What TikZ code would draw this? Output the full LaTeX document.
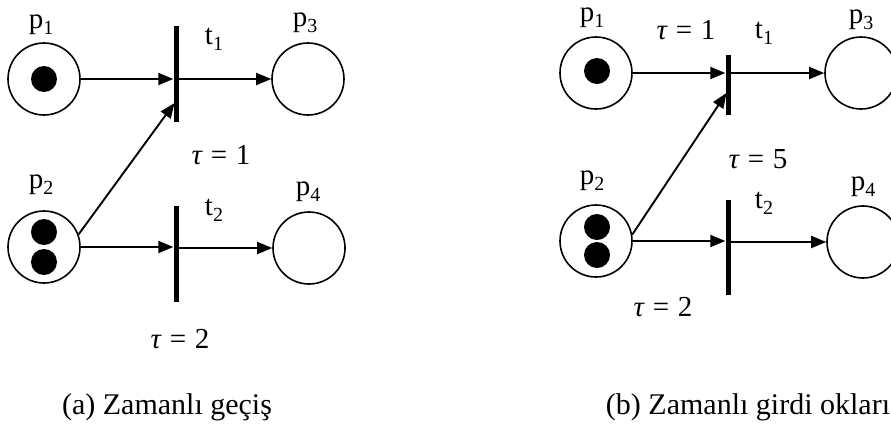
\documentclass[tikz,border=0pt]{standalone}
\usepackage{fontspec}
\setmainfont{Liberation Serif}
\usetikzlibrary{arrows.meta}
\newcommand\sbs[1]{\raisebox{-0.22em}{\fontsize{20}{20}\selectfont #1}}
\newcommand\tauq[1]{{\itshape τ}\hspace{0.3em}=\hspace{0.3em}#1}
\begin{document}
\begin{tikzpicture}[x=1pt,y=-1pt,
  place/.style={circle,draw,line width=1.6pt,minimum size=72pt,inner sep=0pt},
  token/.style={circle,fill,minimum size=26pt,inner sep=0pt},
  bar/.style={fill,inner sep=0pt,minimum width=5pt},
  arc/.style={line width=1.9pt,-{Triangle[length=15pt,width=12pt]}},
  lbl/.style={anchor=base,inner sep=0pt,font=\fontsize{29}{32}\selectfont},
  captext/.style={anchor=base,inner sep=0pt,font=\fontsize{30}{33}\selectfont}]
\useasboundingbox (0,0) rectangle (891,437);
% ---------- (a) ----------
\node[place] (ap1) at (44,79) {};
\node[token] (ap1k) at (44,79) {};
\node[place] (ap2) at (44,247) {};
\node[token] (ap2k1) at (44,232) {};
\node[token] (ap2k2) at (44,262) {};
\node[place] (ap3) at (308,79) {};
\node[place] (ap4) at (309,248) {};
\node[bar,minimum height=96pt] (at1) at (176,74) {};
\node[bar,minimum height=96pt] (at2) at (176,254) {};
\coordinate (at1in) at (174.5,103);
\draw[arc] (ap1) -- (ap1 -| at1.west);
\draw[arc] (ap2.20) -- (at1in);
\draw[arc] (ap2.east) -- (ap2.east -| at2.west);
\draw[arc] (at1.center |- ap3) -- (ap3);
\draw[arc] (at2.center |- ap4) -- (ap4);
\node[lbl] (lap1) at (41,28) {p\sbs{1}};
\node[lbl] (lat1) at (214,44) {t\sbs{1}};
\node[lbl] (lap3) at (305,26) {p\sbs{3}};
\node[lbl] (latau1) at (221,164) {\tauq{1}};
\node[lbl] (lap2) at (41,188) {p\sbs{2}};
\node[lbl] (lat2) at (214,215) {t\sbs{2}};
\node[lbl] (lap4) at (308,195) {p\sbs{4}};
\node[lbl] (latau2) at (180,348) {\tauq{2}};
\node[captext] (capa) at (167,414) {(a) Zamanlı geçiş};
% ---------- (b) ----------
\node[place] (bp1) at (596,73) {};
\node[token] (bp1k) at (597,71) {};
\node[place] (bp2) at (596,241) {};
\node[token] (bp2k1) at (597,227) {};
\node[token] (bp2k2) at (597,255) {};
\node[place] (bp3) at (861,73) {};
\node[place] (bp4) at (863,242) {};
\node[bar,minimum height=60pt] (bt1) at (728,85) {};
\node[bar,minimum height=95pt] (bt2) at (728,247.5) {};
\coordinate (bt1in) at (726.5,93);
\draw[arc] (bp1) -- (bp1 -| bt1.west);
\draw[arc] (bp2.10) -- (bt1in);
\draw[arc] (bp2.east) -- (bp2.east -| bt2.west);
\draw[arc] (bt1.center |- bp3) -- (bp3);
\draw[arc] (bt2.center |- bp4) -- (bp4);
\node[lbl] (lbp1) at (592,21) {p\sbs{1}};
\node[lbl] (lbtau1) at (686,39) {\tauq{1}};
\node[lbl] (lbt1) at (764,38) {t\sbs{1}};
\node[lbl] (lbp3) at (861,23) {p\sbs{3}};
\node[lbl] (lbtau5) at (758,168) {\tauq{5}};
\node[lbl] (lbp2) at (592,184) {p\sbs{2}};
\node[lbl] (lbt2) at (764,208) {t\sbs{2}};
\node[lbl] (lbp4) at (863,190) {p\sbs{4}};
\node[lbl] (lbtau2) at (663,316) {\tauq{2}};
\node[captext] (capb) at (748,414) {(b) Zamanlı girdi okları};
\end{tikzpicture}
\end{document}
